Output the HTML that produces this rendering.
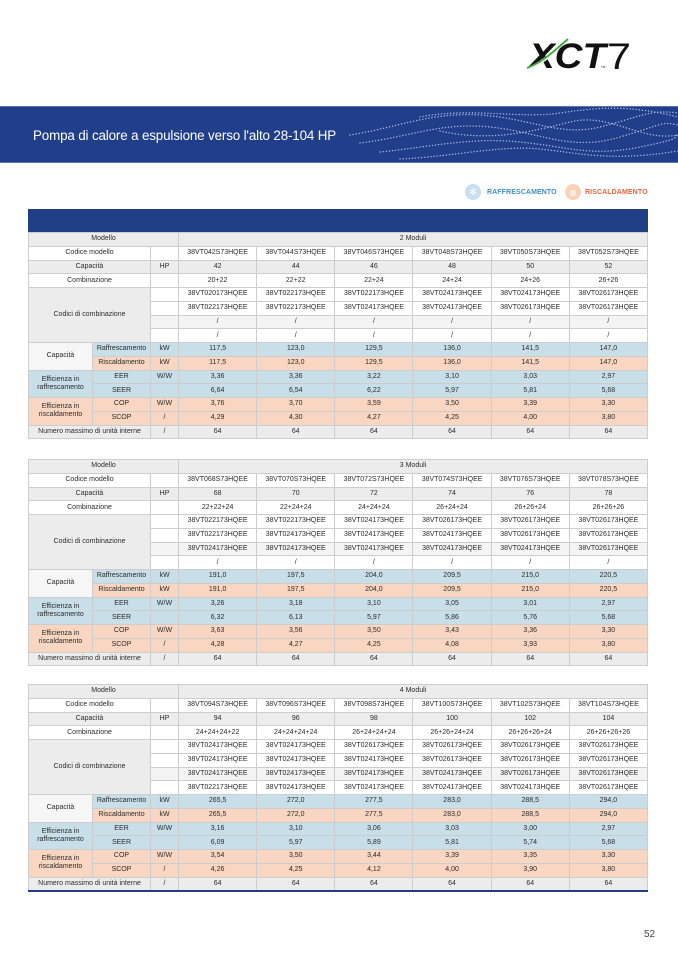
<!DOCTYPE html>
<html><head><meta charset="utf-8">
<style>
html,body{margin:0;padding:0;}
body{width:678px;height:959px;position:relative;overflow:hidden;background:#fff;font-family:"Liberation Sans",sans-serif;}
.banner{position:absolute;left:0;top:106px;width:678px;height:57px;background:#213e8b;border-top:1px solid #5a74b0;border-bottom:1px solid #5a74b0;box-sizing:border-box;}
.title{position:absolute;left:33px;top:128px;font-size:13.4px;color:#fff;white-space:nowrap;letter-spacing:-0.15px;}
.band{position:absolute;left:28px;top:209px;width:620px;height:23px;background:#213f87;}
table.t{position:absolute;left:28px;width:620px;border-collapse:collapse;table-layout:fixed;font-size:7px;color:#2c2c2c;}
.t td{padding:0;text-align:center;vertical-align:middle;border:1px solid #cdcdcd;line-height:8px;white-space:nowrap;overflow:hidden;}
.t tr{height:13.75px;}
.g td,td.g{background:#ececec;}
.l td{background:#f4f4f4;}
.b td{background:#c8dee9;}
.o td{background:#f8d6c1;}
td.w{background:#f6f6f6 !important;}
.pn{position:absolute;left:644px;top:929px;font-size:10px;color:#444;}
.leg{position:absolute;top:189px;font-size:7px;font-weight:bold;letter-spacing:0.1px;}
</style></head><body>

<svg style="position:absolute;left:0;top:0" width="678" height="100">
  <text x="529" y="68" font-family="Liberation Sans" font-weight="bold" font-style="italic" font-size="35" fill="#111" textLength="77" lengthAdjust="spacingAndGlyphs">XCT</text>
  <path d="M528 69 C 545 62, 555 50, 566 40" stroke="#fff" stroke-width="3.5" fill="none"/>
  <path d="M527 68 C 545 61, 556 49, 568 39" stroke="#3aa935" stroke-width="1.8" fill="none"/>
  <text x="601" y="68" font-family="Liberation Sans" font-size="3" fill="#111">TM</text>
  <text x="607" y="69" font-family="Liberation Sans" font-size="37" fill="#111" textLength="24" lengthAdjust="spacingAndGlyphs">7</text>
</svg>

<div class="banner"></div>
<svg style="position:absolute;left:0;top:107px" width="678" height="55">
  <g fill="none" stroke="#c9d6f0" stroke-linecap="round" stroke-dasharray="0.1 3" stroke-width="1.4" opacity="0.8">
    <path d="M350 28 C 400 20, 430 5, 480 8 S 560 30, 600 20 S 650 2, 678 6"/>
    <path d="M360 36 C 410 30, 440 15, 490 20 S 570 45, 620 30 S 660 15, 678 18"/>
    <path d="M380 45 C 430 40, 470 30, 520 35 S 590 50, 640 40 S 670 30, 678 28"/>
    <path d="M400 52 C 450 50, 500 38, 540 42 S 610 55, 678 44"/>
    <path d="M420 10 C 470 0, 520 12, 560 6 S 630 -2, 678 10"/>
    <path d="M440 24 C 490 35, 530 25, 570 15 S 640 35, 678 28"/>
  </g>
</svg>
<div class="title">Pompa di calore a espulsione verso l'alto 28-104 HP</div>

<svg style="position:absolute;left:462px;top:182px" width="190" height="22">
  <circle cx="11" cy="10" r="8" fill="#c7dff0"/>
  <text x="11" y="13" font-size="9" text-anchor="middle" fill="#fff" font-family="DejaVu Sans">✻</text>
  <circle cx="111" cy="10" r="8" fill="#f9d2b8"/>
  <text x="111" y="13" font-size="8" text-anchor="middle" fill="#fff" font-family="DejaVu Sans">◍</text>
</svg>
<div class="leg" style="left:487px;color:#3f8fbf;">RAFFRESCAMENTO</div>
<div class="leg" style="left:585px;color:#e0663f;">RISCALDAMENTO</div>

<div class="band"></div>

<table class="t" style="top:232px">
<colgroup><col style="width:64px"><col style="width:58px"><col style="width:28px"><col><col><col><col><col><col></colgroup>
<tr class="g"><td colspan="3">Modello</td><td colspan="6">2 Moduli</td></tr>
<tr><td colspan="2">Codice modello</td><td></td><td>38VT042S73HQEE</td><td>38VT044S73HQEE</td><td>38VT046S73HQEE</td><td>38VT048S73HQEE</td><td>38VT050S73HQEE</td><td>38VT052S73HQEE</td></tr>
<tr class="g"><td colspan="2">Capacità</td><td>HP</td><td>42</td><td>44</td><td>46</td><td>48</td><td>50</td><td>52</td></tr>
<tr><td colspan="2">Combinazione</td><td></td><td>20+22</td><td>22+22</td><td>22+24</td><td>24+24</td><td>24+26</td><td>26+26</td></tr>
<tr><td colspan="2" rowspan="4" class="g">Codici di combinazione</td><td></td><td>38VT020173HQEE</td><td>38VT022173HQEE</td><td>38VT022173HQEE</td><td>38VT024173HQEE</td><td>38VT024173HQEE</td><td>38VT026173HQEE</td></tr>
<tr><td></td><td>38VT022173HQEE</td><td>38VT022173HQEE</td><td>38VT024173HQEE</td><td>38VT024173HQEE</td><td>38VT026173HQEE</td><td>38VT026173HQEE</td></tr>
<tr class="l"><td></td><td>/</td><td>/</td><td>/</td><td>/</td><td>/</td><td>/</td></tr>
<tr><td></td><td>/</td><td>/</td><td>/</td><td>/</td><td>/</td><td>/</td></tr>
<tr class="b"><td rowspan="2" class="w">Capacità</td><td>Raffrescamento</td><td>kW</td><td>117,5</td><td>123,0</td><td>129,5</td><td>136,0</td><td>141,5</td><td>147,0</td></tr>
<tr class="o"><td>Riscaldamento</td><td>kW</td><td>117,5</td><td>123,0</td><td>129,5</td><td>136,0</td><td>141,5</td><td>147,0</td></tr>
<tr class="b"><td rowspan="2">Efficienza in<br>raffrescamento</td><td>EER</td><td>W/W</td><td>3,36</td><td>3,36</td><td>3,22</td><td>3,10</td><td>3,03</td><td>2,97</td></tr>
<tr class="b"><td>SEER</td><td></td><td>6,64</td><td>6,54</td><td>6,22</td><td>5,97</td><td>5,81</td><td>5,68</td></tr>
<tr class="o"><td rowspan="2">Efficienza in<br>riscaldamento</td><td>COP</td><td>W/W</td><td>3,76</td><td>3,70</td><td>3,59</td><td>3,50</td><td>3,39</td><td>3,30</td></tr>
<tr class="o"><td>SCOP</td><td>/</td><td>4,29</td><td>4,30</td><td>4,27</td><td>4,25</td><td>4,00</td><td>3,80</td></tr>
<tr class="g"><td colspan="2">Numero massimo di unità interne</td><td>/</td><td>64</td><td>64</td><td>64</td><td>64</td><td>64</td><td>64</td></tr>
</table>

<table class="t" style="top:459px">
<colgroup><col style="width:64px"><col style="width:58px"><col style="width:28px"><col><col><col><col><col><col></colgroup>
<tr class="g"><td colspan="3">Modello</td><td colspan="6">3 Moduli</td></tr>
<tr><td colspan="2">Codice modello</td><td></td><td>38VT068S73HQEE</td><td>38VT070S73HQEE</td><td>38VT072S73HQEE</td><td>38VT074S73HQEE</td><td>38VT076S73HQEE</td><td>38VT078S73HQEE</td></tr>
<tr class="g"><td colspan="2">Capacità</td><td>HP</td><td>68</td><td>70</td><td>72</td><td>74</td><td>76</td><td>78</td></tr>
<tr><td colspan="2">Combinazione</td><td></td><td>22+22+24</td><td>22+24+24</td><td>24+24+24</td><td>26+24+24</td><td>26+26+24</td><td>26+26+26</td></tr>
<tr><td colspan="2" rowspan="4" class="g">Codici di combinazione</td><td></td><td>38VT022173HQEE</td><td>38VT022173HQEE</td><td>38VT024173HQEE</td><td>38VT026173HQEE</td><td>38VT026173HQEE</td><td>38VT026173HQEE</td></tr>
<tr><td></td><td>38VT022173HQEE</td><td>38VT024173HQEE</td><td>38VT024173HQEE</td><td>38VT024173HQEE</td><td>38VT026173HQEE</td><td>38VT026173HQEE</td></tr>
<tr class="l"><td></td><td>38VT024173HQEE</td><td>38VT024173HQEE</td><td>38VT024173HQEE</td><td>38VT024173HQEE</td><td>38VT024173HQEE</td><td>38VT026173HQEE</td></tr>
<tr><td></td><td>/</td><td>/</td><td>/</td><td>/</td><td>/</td><td>/</td></tr>
<tr class="b"><td rowspan="2" class="w">Capacità</td><td>Raffrescamento</td><td>kW</td><td>191,0</td><td>197,5</td><td>204,0</td><td>209,5</td><td>215,0</td><td>220,5</td></tr>
<tr class="o"><td>Riscaldamento</td><td>kW</td><td>191,0</td><td>197,5</td><td>204,0</td><td>209,5</td><td>215,0</td><td>220,5</td></tr>
<tr class="b"><td rowspan="2">Efficienza in<br>raffrescamento</td><td>EER</td><td>W/W</td><td>3,26</td><td>3,18</td><td>3,10</td><td>3,05</td><td>3,01</td><td>2,97</td></tr>
<tr class="b"><td>SEER</td><td></td><td>6,32</td><td>6,13</td><td>5,97</td><td>5,86</td><td>5,76</td><td>5,68</td></tr>
<tr class="o"><td rowspan="2">Efficienza in<br>riscaldamento</td><td>COP</td><td>W/W</td><td>3,63</td><td>3,56</td><td>3,50</td><td>3,43</td><td>3,36</td><td>3,30</td></tr>
<tr class="o"><td>SCOP</td><td>/</td><td>4,28</td><td>4,27</td><td>4,25</td><td>4,08</td><td>3,93</td><td>3,80</td></tr>
<tr class="g"><td colspan="2">Numero massimo di unità interne</td><td>/</td><td>64</td><td>64</td><td>64</td><td>64</td><td>64</td><td>64</td></tr>
</table>

<table class="t" style="top:684px;border-bottom:2px solid #213f87;">
<colgroup><col style="width:64px"><col style="width:58px"><col style="width:28px"><col><col><col><col><col><col></colgroup>
<tr class="g"><td colspan="3">Modello</td><td colspan="6">4 Moduli</td></tr>
<tr><td colspan="2">Codice modello</td><td></td><td>38VT094S73HQEE</td><td>38VT096S73HQEE</td><td>38VT098S73HQEE</td><td>38VT100S73HQEE</td><td>38VT102S73HQEE</td><td>38VT104S73HQEE</td></tr>
<tr class="g"><td colspan="2">Capacità</td><td>HP</td><td>94</td><td>96</td><td>98</td><td>100</td><td>102</td><td>104</td></tr>
<tr><td colspan="2">Combinazione</td><td></td><td>24+24+24+22</td><td>24+24+24+24</td><td>26+24+24+24</td><td>26+26+24+24</td><td>26+26+26+24</td><td>26+26+26+26</td></tr>
<tr><td colspan="2" rowspan="4" class="g">Codici di combinazione</td><td></td><td>38VT024173HQEE</td><td>38VT024173HQEE</td><td>38VT026173HQEE</td><td>38VT026173HQEE</td><td>38VT026173HQEE</td><td>38VT026173HQEE</td></tr>
<tr><td></td><td>38VT024173HQEE</td><td>38VT024173HQEE</td><td>38VT024173HQEE</td><td>38VT026173HQEE</td><td>38VT026173HQEE</td><td>38VT026173HQEE</td></tr>
<tr class="l"><td></td><td>38VT024173HQEE</td><td>38VT024173HQEE</td><td>38VT024173HQEE</td><td>38VT024173HQEE</td><td>38VT026173HQEE</td><td>38VT026173HQEE</td></tr>
<tr><td></td><td>38VT022173HQEE</td><td>38VT024173HQEE</td><td>38VT024173HQEE</td><td>38VT024173HQEE</td><td>38VT024173HQEE</td><td>38VT026173HQEE</td></tr>
<tr class="b"><td rowspan="2" class="w">Capacità</td><td>Raffrescamento</td><td>kW</td><td>265,5</td><td>272,0</td><td>277,5</td><td>283,0</td><td>288,5</td><td>294,0</td></tr>
<tr class="o"><td>Riscaldamento</td><td>kW</td><td>265,5</td><td>272,0</td><td>277,5</td><td>283,0</td><td>288,5</td><td>294,0</td></tr>
<tr class="b"><td rowspan="2">Efficienza in<br>raffrescamento</td><td>EER</td><td>W/W</td><td>3,16</td><td>3,10</td><td>3,06</td><td>3,03</td><td>3,00</td><td>2,97</td></tr>
<tr class="b"><td>SEER</td><td></td><td>6,09</td><td>5,97</td><td>5,89</td><td>5,81</td><td>5,74</td><td>5,68</td></tr>
<tr class="o"><td rowspan="2">Efficienza in<br>riscaldamento</td><td>COP</td><td>W/W</td><td>3,54</td><td>3,50</td><td>3,44</td><td>3,39</td><td>3,35</td><td>3,30</td></tr>
<tr class="o"><td>SCOP</td><td>/</td><td>4,26</td><td>4,25</td><td>4,12</td><td>4,00</td><td>3,90</td><td>3,80</td></tr>
<tr class="g"><td colspan="2">Numero massimo di unità interne</td><td>/</td><td>64</td><td>64</td><td>64</td><td>64</td><td>64</td><td>64</td></tr>
</table>

<div class="pn">52</div>
</body></html>
